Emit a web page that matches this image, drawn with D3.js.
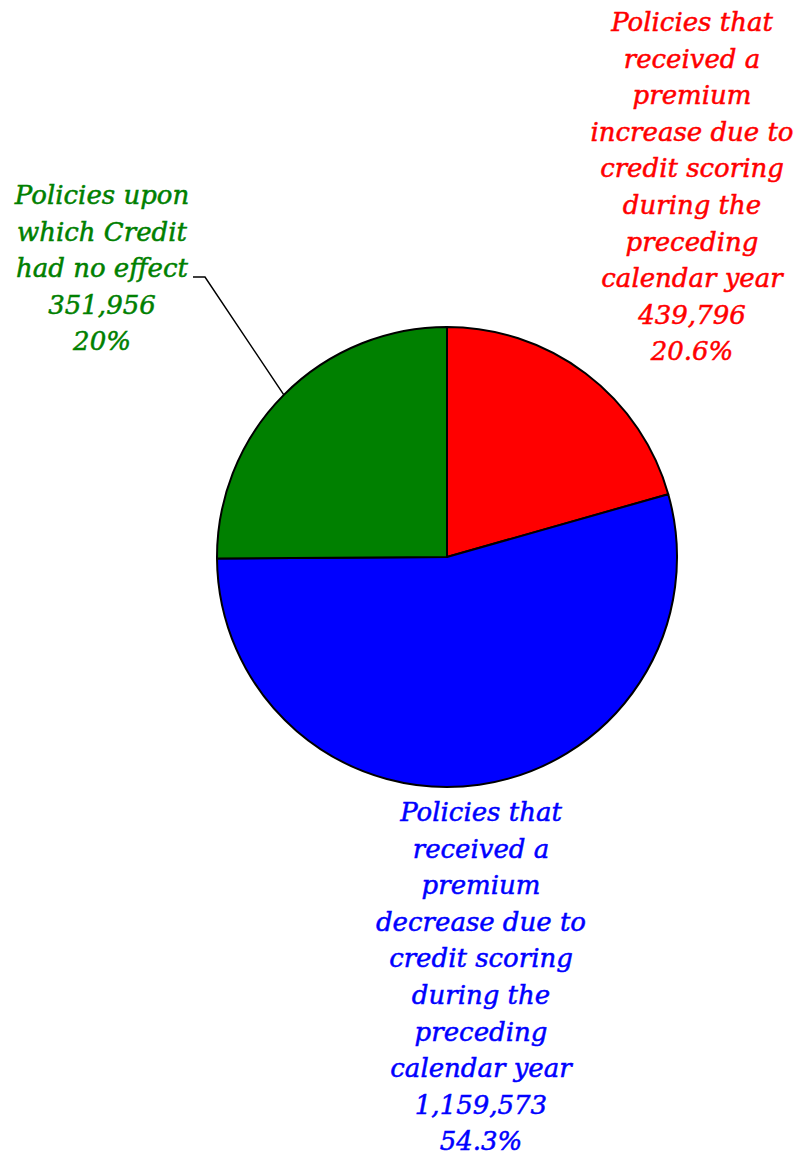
<!DOCTYPE html>
<html>
<head>
<meta charset="utf-8">
<title>Credit scoring pie</title>
<script src="https://cdn.jsdelivr.net/npm/d3@7"></script>
<style>
  body { margin: 0; background: #fff; }
</style>
</head>
<body>
<div id="chart"></div>
<script>
// data
var categories = ["increase", "decrease", "noEffect"];
var labelLines = [
  ["Policies that", "received a", "premium", "increase due to", "credit scoring", "during the", "preceding", "calendar year"],
  ["Policies that", "received a", "premium", "decrease due to", "credit scoring", "during the", "preceding", "calendar year"],
  ["Policies upon", "which Credit", "had no effect"]
];
var counts = [439796, 1159573, 351956];
var pctLabels = ["20.6%", "54.3%", "20%"];
var sliceShares = [20.6, 54.3, 25.1];   // angular share as drawn
var colors = ["#ff0000", "#0000ff", "#008000"];

var width = 799, height = 1159;
var cx = 447, cy = 557, radius = 230;
var fontSize = 26, lineGap = 36.6;

// where each label block is centred (x) and where its first baseline sits
var labelPos = [
  { x: 692, y: 31 },
  { x: 481, y: 821 },
  { x: 102, y: 204 }
];

var svg = d3.select("#chart").append("svg")
    .attr("width", width)
    .attr("height", height);

var pie = d3.pie().sort(null).value(function(d) { return d; });
var arcs = pie(sliceShares);
var arc = d3.arc().innerRadius(0).outerRadius(radius);
var edge = d3.arc().innerRadius(radius).outerRadius(radius);

var g = svg.append("g").attr("transform", "translate(" + cx + "," + cy + ")");

g.selectAll("path")
  .data(arcs)
  .enter().append("path")
    .attr("d", arc)
    .attr("fill", function(d, i) { return colors[i]; })
    .attr("stroke", "#000")
    .attr("stroke-width", 2)
    .attr("stroke-linejoin", "round");

// leader line for the green slice
var tip = edge.centroid(arcs[2]);
svg.append("polyline")
    .attr("points", [[193, 277], [205, 277], [cx + tip[0], cy + tip[1]]].map(function(p) { return p.join(","); }).join(" "))
    .attr("fill", "none")
    .attr("stroke", "#000")
    .attr("stroke-width", 1.5);

var fmt = d3.format(",");

labelLines.forEach(function(lines, i) {
  var all = lines.concat([fmt(counts[i]), pctLabels[i]]);
  var t = svg.append("text")
      .attr("text-anchor", "middle")
      .attr("fill", colors[i])
      .attr("stroke", colors[i])
      .attr("stroke-width", 0.5)
      .attr("font-family", "'DejaVu Serif', serif")
      .attr("font-style", "italic")
      .attr("font-size", fontSize);
  all.forEach(function(line, j) {
    t.append("tspan")
      .attr("x", labelPos[i].x)
      .attr("y", labelPos[i].y + j * lineGap)
      .text(line);
  });
});
</script>
</body>
</html>
